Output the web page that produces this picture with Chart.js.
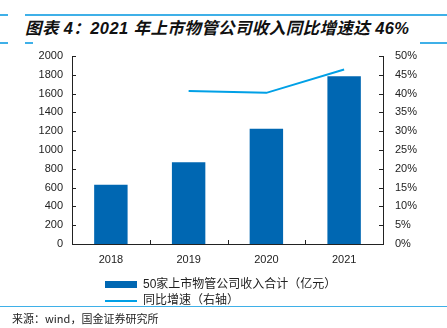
<!DOCTYPE html>
<html lang="zh">
<head>
<meta charset="UTF-8">
<title>2021年上市物管公司收入同比增速</title>
<script src="https://cdn.jsdelivr.net/npm/chart.js"></script>
<style>
    body {
        margin: 0;
        width: 447px;
        height: 328px;
        position: relative;
        overflow: hidden;
        background: #fff;
        font-family: "Liberation Sans", Arial, "Noto Sans CJK SC", sans-serif;
    }
    #wrap {
        position: absolute;
        left: 0;
        top: 0;
        width: 447px;
        height: 328px;
    }
    .deco {
        position: absolute;
        height: 2px;
        background: #3fb0e8;
    }
    #title {
        position: absolute;
        left: 25px;
        top: 15px;
        font-family: "Liberation Sans", "Noto Sans CJK SC", sans-serif;
        font-size: 16.5px;
        letter-spacing: 0.4px;
        font-weight: bold;
        font-style: italic;
        color: #111;
        white-space: nowrap;
    }
    .leg {
        position: absolute;
        left: 105px;
        font-family: "Liberation Sans", "Noto Sans CJK SC", sans-serif;
        font-size: 12px;
        color: #222;
        white-space: nowrap;
    }
    .sw {
        display: inline-block;
        width: 32px;
        vertical-align: middle;
        margin-right: 6px;
    }
    #source {
        position: absolute;
        left: 12px;
        top: 310px;
        font-family: "Noto Sans CJK SC", sans-serif;
        font-size: 11px;
        color: #222;
        white-space: nowrap;
    }
</style>
</head>
<body>
    <div class="deco" style="left:0;top:14px;width:8px"></div>
    <div class="deco" style="left:25px;top:14px;width:422px"></div>
    <div class="deco" style="left:0;top:42px;width:8px"></div>
    <div class="deco" style="left:25px;top:42px;width:8px"></div>
    <div class="deco" style="left:420px;top:42px;width:27px"></div>
    <div id="title">图表 4：2021 年上市物管公司收入同比增速达 46%</div>

    <div id="wrap"><canvas id="chart"></canvas></div>

    <div class="leg" style="top:274px"><span class="sw" style="height:7px;background:#0067b2"></span>50家上市物管公司收入合计（亿元）</div>
    <div class="leg" style="top:290px"><span class="sw" style="height:2px;background:#00a0e6"></span>同比增速（右轴）</div>
    <div class="deco" style="left:0;top:306px;width:447px;height:1px"></div>
    <div id="source">来源：wind，国金证券研究所</div>

<script>
    // categories and values
    const years = ['2018', '2019', '2020', '2021'];
    const revenue = [630, 870, 1225, 1785];        // 亿元, left axis
    const growth = [null, 40.7, 40.2, 46.4];       // %, right axis

    const barColor = '#0067b2';
    const lineColor = '#00a0e6';
    const tickFont = { family: '"Liberation Sans", Arial, sans-serif', size: 11 };

    // draws small inward tick marks on the three axes
    const tickMarks = {
        id: 'tickMarks',
        afterDraw(chart) {
            const ctx = chart.ctx;
            const area = chart.chartArea;
            const yl = chart.scales.y;
            const yr = chart.scales.y1;
            const x = chart.scales.x;
            ctx.save();
            ctx.strokeStyle = '#222';
            ctx.lineWidth = 1;
            ctx.beginPath();
            yl.ticks.forEach(t => {
                const py = Math.round(yl.getPixelForValue(t.value)) + 0.5;
                ctx.moveTo(area.left, py);
                ctx.lineTo(area.left + 4, py);
            });
            yr.ticks.forEach(t => {
                const py = Math.round(yr.getPixelForValue(t.value)) + 0.5;
                ctx.moveTo(area.right, py);
                ctx.lineTo(area.right - 4, py);
            });
            // boundaries between categories
            for (let i = 0; i <= years.length; i++) {
                const px = Math.round(x.getPixelForValue(i - 0.5)) + 0.5;
                ctx.moveTo(px, area.bottom);
                ctx.lineTo(px, area.bottom - 4);
            }
            ctx.stroke();
            ctx.restore();
        }
    };

    const ctx = document.getElementById('chart').getContext('2d');
    new Chart(ctx, {
        data: {
            labels: years,
            datasets: [
                {
                    type: 'line',
                    label: '同比增速（右轴）',
                    data: growth,
                    yAxisID: 'y1',
                    borderColor: lineColor,
                    borderWidth: 2,
                    pointRadius: 0,
                    tension: 0,
                    fill: false,
                    order: 0
                },
                {
                    type: 'bar',
                    label: '50家上市物管公司收入合计（亿元）',
                    data: revenue,
                    yAxisID: 'y',
                    backgroundColor: barColor,
                    barPercentage: 0.43,
                    categoryPercentage: 1,
                    order: 1
                }
            ]
        },
        options: {
            responsive: true,
            maintainAspectRatio: false,
            animation: false,
            layout: { padding: { top: 56, left: 0, right: 0, bottom: 0 } },
            plugins: {
                legend: { display: false },
                tooltip: { enabled: false }
            },
            scales: {
                x: {
                    offset: true,
                    grid: { display: false, drawTicks: false },
                    border: { color: '#222' },
                    ticks: { color: '#222', font: tickFont, padding: 9 },
                    afterFit: s => { s.height = 84; }
                },
                y: {
                    position: 'left',
                    min: 0,
                    max: 2000,
                    grid: { display: false, drawTicks: false },
                    border: { color: '#222' },
                    ticks: {
                        stepSize: 200,
                        color: '#222',
                        font: tickFont,
                        padding: 9,
                        callback: v => String(v)
                    },
                    afterFit: s => { s.width = 72; }
                },
                y1: {
                    position: 'right',
                    min: 0,
                    max: 50,
                    grid: { display: false, drawTicks: false },
                    border: { color: '#222' },
                    ticks: {
                        stepSize: 5,
                        color: '#222',
                        font: tickFont,
                        padding: 12,
                        callback: v => v + '%'
                    },
                    afterFit: s => { s.width = 64; }
                }
            }
        },
        plugins: [tickMarks]
    });
</script>
</body>
</html>
